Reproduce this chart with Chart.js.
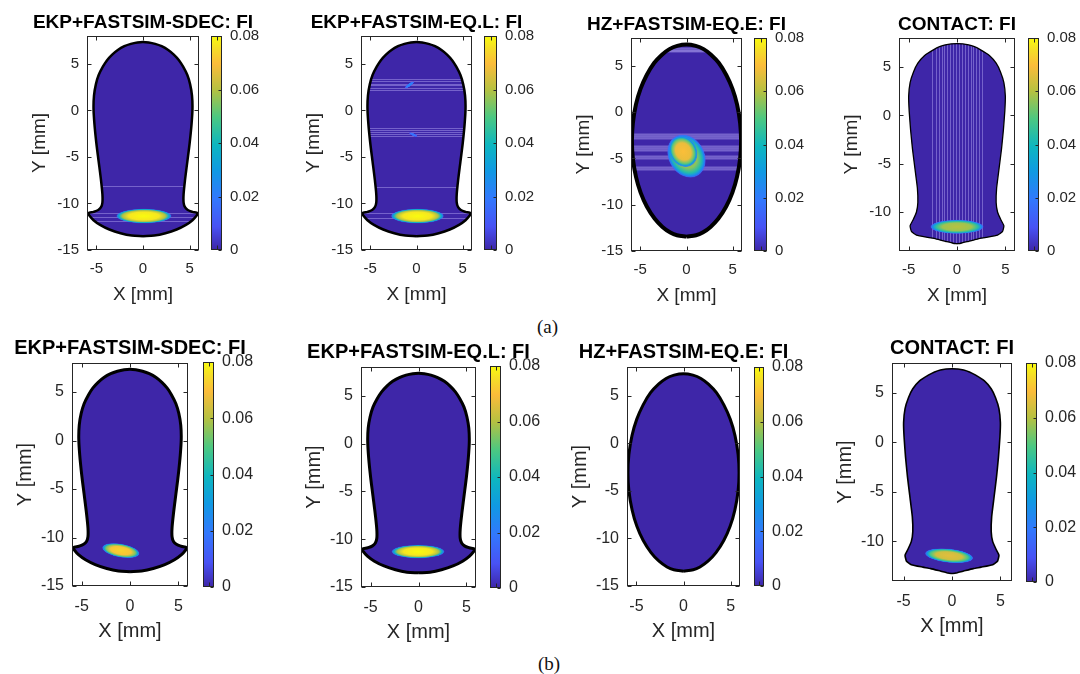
<!DOCTYPE html>
<html>
<head>
<meta charset="utf-8">
<script src="https://cdn.jsdelivr.net/npm/chart.js@4.4.0/dist/chart.umd.min.js"></script>
<style>
  body { margin: 0; background: #fff; width: 1080px; height: 674px; position: relative; overflow: hidden; }
  canvas { position: absolute; }
  .cap { position: absolute; font-family: "Liberation Serif", "Times New Roman", serif; font-size: 19px; line-height: 19px; color: #111; }
</style>
</head>
<body>
<div class="cap" style="left:537px;top:317px">(a)</div>
<div class="cap" style="left:538px;top:654px">(b)</div>
<script>
// ---- data ----
const xTicks = [-5, 0, 5];
const yTicksPear = [-15, -10, -5, 0, 5];
const yTicksContact = [-10, -5, 0, 5];
const fiTicks = [0, 0.02, 0.04, 0.06, 0.08];

// half width of contact patch (mm) along Y (mm), top -> bottom
const pearY = [7.35, 7.3, 7.15, 6.9, 6.5, 6.0, 5.4, 4.7, 3.8, 2.8, 1.6, 0.2, -1.5, -3.5, -5.5, -7.5, -9.0, -9.9, -10.4, -10.7, -10.9, -11.05, -11.3, -11.8, -12.3, -12.8, -13.2, -13.45, -13.52];
const pearW = [0, 0.6, 1.3, 2.0, 2.7, 3.3, 3.85, 4.3, 4.75, 5.05, 5.25, 5.3, 5.2, 5.0, 4.75, 4.5, 4.35, 4.35, 4.5, 4.8, 5.3, 5.85, 5.75, 5.3, 4.6, 3.6, 2.4, 1.2, 0];

const ellY = [7.3, 7.15, 6.8, 6.2, 5.3, 4.0, 2.5, 0.8, -1.2, -3.1, -5.0, -7.0, -8.7, -10.2, -11.5, -12.4, -13.0, -13.3, -13.45];
const ellW = [0, 1.0, 1.85, 2.65, 3.5, 4.3, 4.97, 5.47, 5.8, 5.9, 5.8, 5.46, 4.96, 4.29, 3.45, 2.6, 1.75, 1.03, 0];

const contY = [7.42, 7.4, 7.3, 7.1, 6.8, 6.2, 5.4, 4.5, 3.4, 2.0, 0.5, -1.5, -3.5, -5.5, -7.5, -9.0, -10.0, -10.8, -11.4, -12.0, -12.35, -12.6, -12.75, -13.0, -13.2, -13.25];
const contW = [0, 0.6, 1.2, 1.8, 2.4, 3.35, 4.05, 4.5, 4.85, 5.0, 4.95, 4.8, 4.6, 4.35, 4.1, 4.05, 4.2, 4.55, 4.85, 4.7, 4.2, 3.0, 2.2, 1.2, 0.4, 0];

// hot spots: [x, y, rx, ry, rotation deg, peak FI]
const spotsA1 = [[0.1, -11.35, 2.95, 0.78, 0, 0.08]];
const spotsA2 = [[0.1, -11.35, 2.85, 0.78, 0, 0.08], [-0.75, 2.75, 0.6, 0.18, 35, 0.022], [-0.35, -2.6, 0.5, 0.15, -25, 0.018]];
const spotsA3 = [[0.0, -4.75, 1.95, 2.45, 30, 0.058], [-0.35, -4.25, 1.45, 1.75, 30, 0.07]];
const spotsA4 = [[0, -11.5, 2.75, 0.72, 0, 0.06]];
const spotsB1 = [[-0.95, -11.35, 1.95, 0.7, -10, 0.074]];
const spotsB2 = [[-0.05, -11.3, 2.75, 0.7, 0, 0.08]];
const spotsB3 = [];
const spotsB4 = [[-0.3, -11.45, 2.5, 0.7, -6, 0.066]];

// faint grid artefacts of the solvers
const rowsA1 = [-8.15, -11.05, -11.5, -11.85];
const rowsA2 = [3.39, 3.14, 2.89, 2.68, 2.43, 2.25, -1.86, -2.1, -2.3, -2.57, -2.75, -8.2, -11.05, -11.6];
const rowsA3 = [6.55, 6.75, 6.9, -2.35, -2.55, -2.75, -3.65, -3.85, -4.05, -4.75, -4.95, -5.95, -6.15];
const colsA4 = [-2.55, -2.2, -1.9, -1.6, -1.3, -1.0, -0.7, -0.4, -0.1, 0.2, 0.5, 0.8, 1.1, 1.4, 1.7, 2.0, 2.3, 2.6];

// ---- parula colormap ----
const parulaStops = [[0, 62, 38, 168], [0.11, 72, 82, 244], [0.24, 50, 120, 253], [0.37, 16, 153, 227], [0.49, 13, 182, 192],
  [0.62, 75, 200, 130], [0.75, 182, 193, 65], [0.87, 251, 188, 58], [0.94, 245, 220, 40], [1, 249, 251, 14]];
function parula(t, a = 1) {
  t = Math.max(0, Math.min(1, t));
  for (let i = 1; i < parulaStops.length; i++) {
    const p = parulaStops[i - 1], q = parulaStops[i];
    if (t <= q[0]) {
      const f = (t - p[0]) / (q[0] - p[0]);
      const c = [1, 2, 3].map(k => Math.round(p[k] + (q[k] - p[k]) * f));
      return `rgba(${c[0]},${c[1]},${c[2]},${a})`;
    }
  }
  return 'rgba(249,251,14,' + a + ')';
}

function outline(ys, ws) {
  const right = ys.map((y, i) => ({x: ws[i], y: y})).reverse();
  const left = ys.map((y, i) => ({x: -ws[i], y: y}));
  return right.concat(left.slice(1));
}

const fiMax = fiTicks[fiTicks.length - 1];
const ink = '#262626';

const overlay = {
  id: 'overlay',
  beforeDatasetDraw(chart, args, opts) {
    if (args.index !== 0) return;
    const {ctx, chartArea: a} = chart;
    const sx = chart.scales.x, sy = chart.scales.y;
    const pts = args.meta.data;
    ctx.save();
    ctx.beginPath();
    pts.forEach((p, i) => i ? ctx.lineTo(p.x, p.y) : ctx.moveTo(p.x, p.y));
    ctx.closePath();
    ctx.clip();
    ctx.strokeStyle = 'rgba(200,190,255,0.4)';
    ctx.lineWidth = opts.stripeW || 1;
    (opts.rows || []).forEach(v => {
      const py = Math.round(sy.getPixelForValue(v)) + 0.5;
      ctx.beginPath(); ctx.moveTo(a.left, py); ctx.lineTo(a.right, py); ctx.stroke();
    });
    (opts.cols || []).forEach(v => {
      const px = Math.round(sx.getPixelForValue(v)) + 0.5;
      ctx.beginPath(); ctx.moveTo(px, a.top); ctx.lineTo(px, a.bottom); ctx.stroke();
    });
    (opts.spots || []).forEach(s => {
      const cx = sx.getPixelForValue(s[0]), cy = sy.getPixelForValue(s[1]);
      const rx = Math.abs(sx.getPixelForValue(s[0] + s[2]) - cx);
      const ry = Math.abs(sy.getPixelForValue(s[1] + s[3]) - cy);
      const t = s[5] / fiMax;
      ctx.save();
      ctx.translate(cx, cy);
      ctx.rotate(-s[4] * Math.PI / 180);
      ctx.scale(rx, ry);
      const g = ctx.createRadialGradient(0, 0, 0, 0, 0, 1);
      g.addColorStop(0, parula(t));
      g.addColorStop(0.55, parula(t * 0.96));
      g.addColorStop(0.78, parula(t * 0.74));
      g.addColorStop(0.9, parula(t * 0.46));
      g.addColorStop(0.97, parula(t * 0.3, 0.85));
      g.addColorStop(1, parula(t * 0.2, 0.3));
      ctx.fillStyle = g;
      ctx.beginPath(); ctx.arc(0, 0, 1, 0, Math.PI * 2); ctx.fill();
      ctx.restore();
    });
    ctx.restore();
  }
};

const frame = {
  id: 'frame',
  afterDraw(chart, args, opts) {
    const {ctx, chartArea: a} = chart;
    const l = Math.round(a.left) + 0.5, r = Math.round(a.right) - 0.5;
    const t = Math.round(a.top) + 0.5, b = Math.round(a.bottom) - 0.5;
    ctx.save();
    ctx.strokeStyle = ink;
    ctx.lineWidth = 1;
    ctx.strokeRect(l, t, r - l, b - t);
    if (opts.inner) {
      ctx.beginPath();
      chart.scales.x.ticks.forEach(tk => {
        const px = Math.round(chart.scales.x.getPixelForValue(tk.value)) + 0.5;
        ctx.moveTo(px, b); ctx.lineTo(px, b - 4);
        ctx.moveTo(px, t); ctx.lineTo(px, t + 4);
      });
      chart.scales.y.ticks.forEach(tk => {
        const py = Math.round(chart.scales.y.getPixelForValue(tk.value)) + 0.5;
        if (opts.cb) { ctx.moveTo(r, py); ctx.lineTo(r - 3, py); return; }
        ctx.moveTo(l, py); ctx.lineTo(l + 4, py);
        ctx.moveTo(r, py); ctx.lineTo(r - 4, py);
      });
      ctx.stroke();
    }
    ctx.restore();
  }
};

const rowStyle = {
  a: {title: 19, tick: 15, label: 19, titleTop: 5, yPad: 11.6, xPad: 10, xTitlePad: 3.6},
  b: {title: 20, tick: 16, label: 20, titleTop: 3.6, yPad: 11, xPad: 11, xTitlePad: 2.3}
};

const panels = [
  {title: 'EKP+FASTSIM-SDEC: FI', row: 'a', box: [87, 36, 199, 250], cb: [211, 36, 222, 250], ys: pearY, ws: pearW, lw: 2.5, spots: spotsA1, rows: rowsA1},
  {title: 'EKP+FASTSIM-EQ.L: FI', row: 'a', box: [361, 36, 472, 250], cb: [484, 36, 497, 250], ys: pearY, ws: pearW, lw: 2.5, spots: spotsA2, rows: rowsA2},
  {title: 'HZ+FASTSIM-EQ.E: FI', row: 'a', box: [631, 38, 742, 251], cb: [754, 38, 767, 251], ys: ellY, ws: ellW, lw: 4, spots: spotsA3, rows: rowsA3, stripeW: 2},
  {title: 'CONTACT: FI', row: 'a', box: [899, 38, 1015, 251], cb: [1028, 38, 1039, 251], ys: contY, ws: contW, lw: 1.3, spots: spotsA4, cols: colsA4, contact: true},
  {title: 'EKP+FASTSIM-SDEC: FI', row: 'b', box: [72, 363, 188, 586], cb: [203, 362, 214, 587], ys: pearY, ws: pearW, lw: 3, spots: spotsB1},
  {title: 'EKP+FASTSIM-EQ.L: FI', row: 'b', box: [361, 367, 476, 587], cb: [490, 366, 501, 588], ys: pearY, ws: pearW, lw: 3, spots: spotsB2},
  {title: 'HZ+FASTSIM-EQ.E: FI', row: 'b', box: [627, 367, 740, 586], cb: [754, 367, 764, 586], ys: ellY, ws: ellW, lw: 3, spots: spotsB3},
  {title: 'CONTACT: FI', row: 'b', box: [892, 363, 1012, 581], cb: [1026, 363, 1037, 582], ys: contY, ws: contW, lw: 1.6, spots: spotsB4, contact: true, xr: 6.2}
];

function addCanvas(left, top, w, h) {
  const c = document.createElement('canvas');
  c.width = w; c.height = h;
  c.style.left = left + 'px'; c.style.top = top + 'px';
  c.style.width = w + 'px'; c.style.height = h + 'px';
  document.body.appendChild(c);
  return c;
}

const font = '"Liberation Sans", Arial, Helvetica, sans-serif';
const noPad = s => { s.paddingLeft = 0; s.paddingRight = 0; s.paddingTop = 0; s.paddingBottom = 0; };

panels.forEach(p => {
  const st = rowStyle[p.row];
  const [L, T, R, B] = p.box;
  const xr = p.xr || 6;
  const yTicks = p.contact ? yTicksContact : yTicksPear;
  const yMin = p.contact ? -14 : -15;
  const cv = addCanvas(L - 70, T - 30, R - L + 140, B - T + 90);
  new Chart(cv, {
    type: 'scatter',
    data: {
      datasets: [{
        data: outline(p.ys, p.ws),
        showLine: true,
        fill: 'shape',
        backgroundColor: parula(0),
        borderColor: '#000',
        borderWidth: p.lw,
        tension: p.contact ? 0.15 : 0.3,
        pointRadius: 0
      }]
    },
    options: {
      responsive: false,
      devicePixelRatio: 1,
      animation: false,
      events: [],
      layout: {padding: 0},
      plugins: {
        legend: {display: false},
        tooltip: {enabled: false},
        title: {
          display: true, text: p.title, color: '#000',
          font: {family: font, size: st.title, weight: 'bold', lineHeight: 1.2},
          padding: {top: st.titleTop, bottom: 30 - st.titleTop - st.title * 1.2}
        },
        overlay: {spots: p.spots, rows: p.rows, cols: p.cols, stripeW: p.stripeW},
        frame: {inner: true}
      },
      scales: {
        x: {
          type: 'linear', min: -xr, max: xr,
          afterBuildTicks: s => { s.ticks = xTicks.map(v => ({value: v})); },
          afterFit: s => { s.height = 60; noPad(s); },
          grid: {display: false, drawTicks: false},
          border: {display: false},
          ticks: {padding: st.xPad, color: ink, font: {family: font, size: st.tick}, callback: v => String(v)},
          title: {display: true, text: 'X [mm]', color: ink, font: {family: font, size: st.label}, padding: {top: 0, bottom: st.xTitlePad}}
        },
        y: {
          type: 'linear', min: yMin, max: 8,
          afterBuildTicks: s => { s.ticks = yTicks.map(v => ({value: v})); },
          afterFit: s => { s.width = 70; noPad(s); },
          grid: {display: false, drawTicks: false},
          border: {display: false},
          ticks: {padding: 8, color: ink, font: {family: font, size: st.tick}, callback: v => String(v)},
          title: {display: true, text: 'Y [mm]', color: ink, font: {family: font, size: st.label}, padding: {top: st.yPad, bottom: 0}}
        },
        // empty right-hand axis keeps the title centred over the plot box
        yr: {
          type: 'linear', position: 'right', min: yMin, max: 8,
          afterFit: s => { s.width = 70; noPad(s); },
          grid: {display: false, drawTicks: false},
          border: {display: false},
          ticks: {display: false}
        }
      }
    },
    plugins: [overlay, frame]
  });

  // colour bar
  const [cl, ct, cr, cbm] = p.cb;
  const cc = addCanvas(cl, ct - 10, cr - cl + 50, cbm - ct + 20);
  new Chart(cc, {
    type: 'bar',
    data: {
      labels: ['FI'],
      datasets: [{
        data: [[fiTicks[0], fiMax]],
        backgroundColor: c => {
          const a = c.chart.chartArea;
          if (!a) return parula(0);
          const g = c.chart.ctx.createLinearGradient(0, a.bottom, 0, a.top);
          parulaStops.forEach(s => g.addColorStop(s[0], parula(s[0])));
          return g;
        },
        borderWidth: 0,
        barPercentage: 1,
        categoryPercentage: 1
      }]
    },
    options: {
      responsive: false,
      devicePixelRatio: 1,
      animation: false,
      events: [],
      layout: {padding: {left: 0, right: 0, top: 10, bottom: 10}},
      plugins: {legend: {display: false}, tooltip: {enabled: false}, frame: {inner: true, cb: true}},
      scales: {
        x: {display: false, afterFit: noPad},
        y: {
          position: 'right', min: 0, max: fiMax,
          afterBuildTicks: s => { s.ticks = fiTicks.map(v => ({value: v})); },
          afterFit: s => { s.width = 50; noPad(s); },
          grid: {display: false, drawTicks: false},
          border: {display: false},
          ticks: {padding: 8, color: ink, font: {family: font, size: st.tick}, callback: v => String(v)}
        }
      }
    },
    plugins: [frame]
  });
});
</script>
</body>
</html>
